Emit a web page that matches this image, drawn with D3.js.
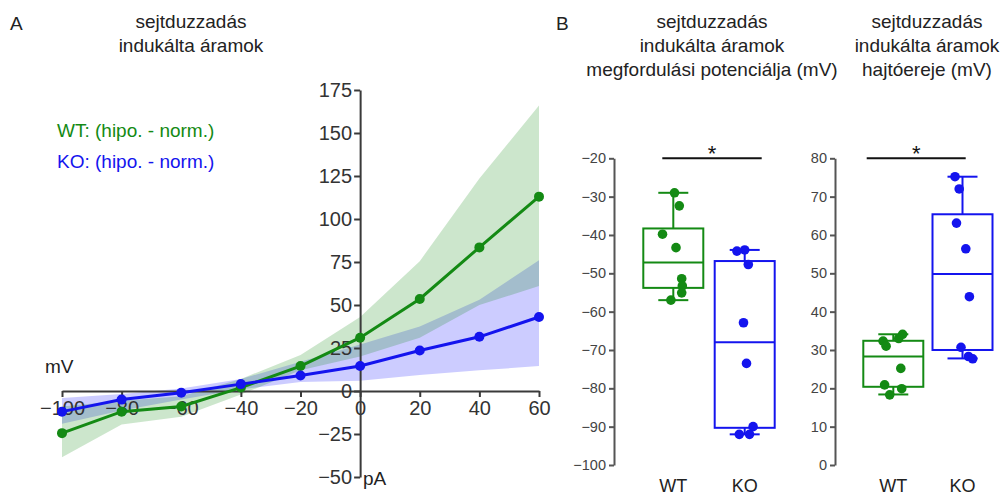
<!DOCTYPE html>
<html>
<head>
<meta charset="utf-8">
<script src="https://cdn.jsdelivr.net/npm/d3@7"></script>
<style>
  body { margin: 0; background: #fff; }
  svg { font-family: "Liberation Sans", Arial, sans-serif; }
</style>
</head>
<body>
<svg width="1005" height="496"></svg>
<script>
// --- panel A data (hipo. - norm. difference curves) ---
var voltages = [-100, -80, -60, -40, -20, 0, 20, 40, 60];
var wtMean = [-24.5, -12, -9, 2, 14.5, 31, 53.5, 83.5, 113];
var wtLow  = [-38.5, -19.5, -15, -2, 12, 20, 31, 50, 61];
var wtHigh = [-9, -5.7, -3, 7, 21, 43, 75.5, 123.5, 166];
var koMean = [-12, -5, -1, 4, 9, 14.5, 23.5, 31.5, 43];
var koLow  = [-19, -11.3, -5, 1, 5.3, 6, 9.3, 12, 14.5];
var koHigh = [-4, -1.7, 1.5, 7, 17, 27, 37.5, 53, 76];
var xTicksA = [-100, -80, -60, -40, -20, 0, 20, 40, 60];
var yTicksA = [-50, -25, 0, 25, 50, 75, 100, 125, 150, 175];

// --- panel B data ---
var groups = ["WT", "KO"];
// reversal potential (mV)
var revWT = [-29.0, -32.4, -39.8, -43.3, -51.4, -53.3, -55.1, -57.0];
var revKO = [-43.9, -44.2, -47.7, -62.9, -73.5, -90.0, -92.0, -92.0];
var revJitWT = [0.02, 0.10, -0.18, 0.045, 0.14, 0.15, 0.14, -0.04];
var revJitKO = [0, -0.13, 0.06, -0.02, 0.03, 0.14, -0.09, 0.08];
var revBoxWT = [-57.0, -53.8, -47.2, -38.3, -29.0]; // lo, q1, med, q3, hi
var revBoxKO = [-92.0, -90.3, -68.0, -46.8, -43.9];
var revTicks = [-100, -90, -80, -70, -60, -50, -40, -30, -20];
// driving force (mV)
var emfWT = [34.1, 33.0, 32.3, 31.0, 25.2, 20.9, 19.9, 18.3];
var emfKO = [75.2, 72.0, 63.1, 56.4, 43.9, 30.7, 28.3, 27.7];
var emfJitWT = [0.155, 0.09, -0.17, -0.12, 0.125, -0.145, 0.14, -0.06];
var emfJitKO = [-0.125, -0.055, -0.1, 0.055, 0.115, -0.025, 0.1, 0.17];
var emfBoxWT = [18.4, 20.4, 28.3, 32.4, 34.1];
var emfBoxKO = [27.8, 30.0, 49.8, 65.4, 75.2];
var emfTicks = [0, 10, 20, 30, 40, 50, 60, 70, 80];

var green = "#148a14";
var blue = "#1414ee";
var axisCol = "#3a3a3a";

var svg = d3.select("svg");

// ================= panel A =================
var x = d3.scaleLinear().domain([-100, 60]).range([62, 539]);
var y = d3.scaleLinear().domain([-50, 175]).range([477, 90]);

var area = d3.area()
    .x(function (d, i) { return x(voltages[i]); })
    .y0(function (d) { return y(d[0]); })
    .y1(function (d) { return y(d[1]); });

var line = d3.line()
    .x(function (d, i) { return x(voltages[i]); })
    .y(function (d) { return y(d); });

svg.append("path").datum(d3.zip(koLow, koHigh))
    .attr("d", area).attr("fill", "rgb(0,0,255)").attr("fill-opacity", 0.2);
svg.append("path").datum(d3.zip(wtLow, wtHigh))
    .attr("d", area).attr("fill", "rgb(0,128,0)").attr("fill-opacity", 0.2);

// axes cross at 0 / 0
var xAxisA = svg.append("g")
    .attr("transform", "translate(0," + y(0) + ")")
    .call(d3.axisBottom(x).tickValues(xTicksA).tickSize(6).tickSizeOuter(0).tickPadding(4));
var yAxisA = svg.append("g")
    .attr("transform", "translate(" + x(0) + ",0)")
    .call(d3.axisLeft(y).tickValues(yTicksA).tickSize(6).tickSizeOuter(0).tickPadding(2));

[xAxisA, yAxisA].forEach(function (g) {
    g.attr("font-size", 20).attr("font-family", null);
    g.selectAll("path, line").attr("stroke", axisCol).attr("stroke-width", 2);
    g.selectAll("text").attr("fill", "#333");
});

function drawSeries(vals, col) {
    svg.append("path").datum(vals)
        .attr("d", line).attr("fill", "none")
        .attr("stroke", col).attr("stroke-width", 3);
    svg.append("g").selectAll("circle")
        .data(vals).enter().append("circle")
        .attr("cx", function (d, i) { return x(voltages[i]); })
        .attr("cy", function (d) { return y(d); })
        .attr("r", 5).attr("fill", col);
}
drawSeries(wtMean, green);
drawSeries(koMean, blue);

svg.append("text").attr("x", 45).attr("y", 373).attr("font-size", 19).attr("fill", "#222").text("mV");
svg.append("text").attr("x", 363).attr("y", 485).attr("font-size", 19).attr("fill", "#222").text("pA");

svg.append("text").attr("x", 10).attr("y", 30).attr("font-size", 19).attr("fill", "#222").text("A");
svg.append("text").attr("x", 191).attr("y", 28).attr("font-size", 19).attr("fill", "#222")
    .attr("text-anchor", "middle").text("sejtduzzadás");
svg.append("text").attr("x", 191).attr("y", 52).attr("font-size", 19).attr("fill", "#222")
    .attr("text-anchor", "middle").text("indukálta áramok");

svg.append("text").attr("x", 57).attr("y", 137).attr("font-size", 19).attr("fill", green)
    .text("WT: (hipo. - norm.)");
svg.append("text").attr("x", 57).attr("y", 168).attr("font-size", 19).attr("fill", blue)
    .text("KO: (hipo. - norm.)");

// ================= panel B =================
var boxW = 60;

function boxPanel(axisX, range, domain, ticks, boxes, values, jitters, sigFrom, sigTo, titleX, title) {
    var yb = d3.scaleLinear().domain(domain).range([465, 158.3]);
    var xb = d3.scalePoint().domain(groups).range(range);
    var cols = [green, blue];

    var ax = svg.append("g")
        .attr("transform", "translate(" + axisX + ",0)")
        .call(d3.axisLeft(yb).tickValues(ticks).tickSize(5).tickSizeOuter(0).tickPadding(3));
    ax.attr("font-size", 14.5).attr("font-family", null);
    ax.selectAll("path, line").attr("stroke", "#555").attr("stroke-width", 2);
    ax.selectAll("text").attr("fill", "#444");

    groups.forEach(function (gname, gi) {
        var cx = xb(gname);
        var b = boxes[gi];
        var col = cols[gi];
        var g = svg.append("g").attr("stroke", col).attr("stroke-width", 2).attr("fill", "none");
        // whiskers
        g.append("line").attr("x1", cx).attr("x2", cx).attr("y1", yb(b[0])).attr("y2", yb(b[1]));
        g.append("line").attr("x1", cx).attr("x2", cx).attr("y1", yb(b[3])).attr("y2", yb(b[4]));
        g.append("line").attr("x1", cx - boxW / 4).attr("x2", cx + boxW / 4).attr("y1", yb(b[0])).attr("y2", yb(b[0]));
        g.append("line").attr("x1", cx - boxW / 4).attr("x2", cx + boxW / 4).attr("y1", yb(b[4])).attr("y2", yb(b[4]));
        // box + median
        g.append("rect").attr("x", cx - boxW / 2).attr("y", yb(b[3]))
            .attr("width", boxW).attr("height", yb(b[1]) - yb(b[3]));
        g.append("line").attr("x1", cx - boxW / 2).attr("x2", cx + boxW / 2).attr("y1", yb(b[2])).attr("y2", yb(b[2]));
        // points
        svg.append("g").selectAll("circle")
            .data(values[gi]).enter().append("circle")
            .attr("cx", function (d, i) { return cx + jitters[gi][i] * boxW; })
            .attr("cy", function (d) { return yb(d); })
            .attr("r", 4.8).attr("fill", col);
        svg.append("text").attr("x", cx).attr("y", 492).attr("text-anchor", "middle")
            .attr("font-size", 18).attr("fill", "#222").text(gname);
    });

    // significance bar
    var sx1 = xb("WT") + sigFrom, sx2 = xb("KO") + sigTo;
    svg.append("line").attr("x1", sx1).attr("x2", sx2)
        .attr("y1", yb(domain[1])).attr("y2", yb(domain[1]))
        .attr("stroke", "#111").attr("stroke-width", 2);
    svg.append("text").attr("x", (sx1 + sx2) / 2).attr("y", 161).attr("text-anchor", "middle")
        .attr("font-size", 22).attr("fill", "#111").text("*");

    title.forEach(function (t, i) {
        svg.append("text").attr("x", titleX).attr("y", 28 + i * 24).attr("text-anchor", "middle")
            .attr("font-size", 19).attr("fill", "#222").text(t);
    });
}

svg.append("text").attr("x", 556).attr("y", 30).attr("font-size", 19).attr("fill", "#222").text("B");

boxPanel(614, [673.3, 744.7], [-100, -20], revTicks, [revBoxWT, revBoxKO], [revWT, revKO],
    [revJitWT, revJitKO], -11, 17, 712,
    ["sejtduzzadás", "indukálta áramok", "megfordulási potenciálja (mV)"]);
boxPanel(835, [893.3, 962.5], [0, 80], emfTicks, [emfBoxWT, emfBoxKO], [emfWT, emfKO],
    [emfJitWT, emfJitKO], -26.6, 3.2, 927,
    ["sejtduzzadás", "indukálta áramok", "hajtóereje (mV)"]);
</script>
</body>
</html>
